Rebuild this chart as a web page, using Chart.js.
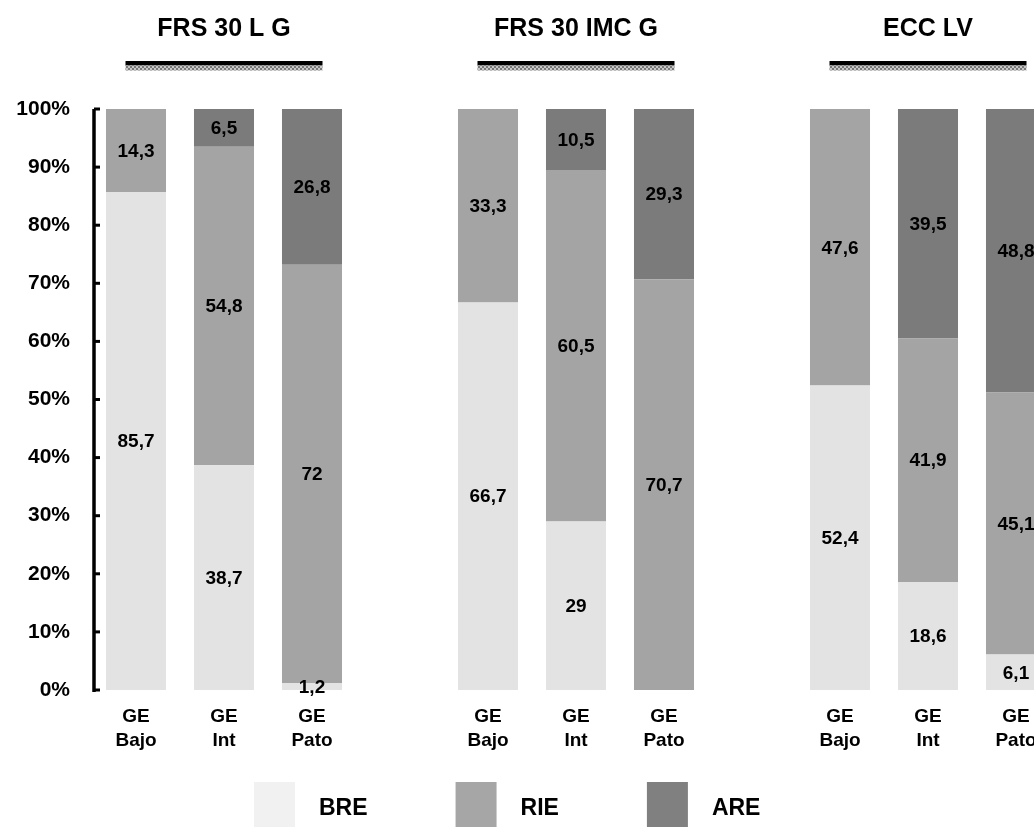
<!DOCTYPE html>
<html>
<head>
<meta charset="utf-8">
<script src="https://cdn.jsdelivr.net/npm/chart.js@4/dist/chart.umd.min.js"></script>
<style>
  html, body { margin: 0; padding: 0; background: #fff; overflow: hidden; width: 1034px; height: 827px; }
  canvas { display: block; }
</style>
</head>
<body>
<canvas id="chart" width="1060" height="827" style="width:1060px;height:827px"></canvas>
<script>
// Categories: three groups of three bars, separated by an empty slot
const categories = [
  ["GE", "Bajo"], ["GE", "Int"], ["GE", "Pato"], "",
  ["GE", "Bajo"], ["GE", "Int"], ["GE", "Pato"], "",
  ["GE", "Bajo"], ["GE", "Int"], ["GE", "Pato"]
];
const groupTitles = ["FRS 30 L G", "FRS 30 IMC G", "ECC LV"];
const groupTitleSlots = [1, 5, 9];

const seriesNames = ["BRE", "RIE", "ARE"];
const breValues = [85.7, 38.7, 1.2, null, 66.7, 29, 0, null, 52.4, 18.6, 6.1];
const rieValues = [14.3, 54.8, 72, null, 33.3, 60.5, 70.7, null, 47.6, 41.9, 45.1];
const areValues = [0, 6.5, 26.8, null, 0, 10.5, 29.3, null, 0, 39.5, 48.8];

const yTicks = [0, 10, 20, 30, 40, 50, 60, 70, 80, 90, 100];

const barColors = ["#e3e3e3", "#a4a4a4", "#7b7b7b"];
const legendColors = ["#f1f1f1", "#a6a6a6", "#808080"];
const FONT = "'Liberation Sans', Arial, Helvetica, sans-serif";

const fmt = v => String(v).replace('.', ',');

// Hatched band under the group headings
function makeHatch(ctx) {
  const p = document.createElement('canvas');
  p.width = 4; p.height = 4;
  const g = p.getContext('2d');
  g.fillStyle = '#c8c8c8'; g.fillRect(0, 0, 4, 4);
  g.fillStyle = '#7a7a7a';
  g.fillRect(0, 0, 2, 2); g.fillRect(2, 2, 2, 2);
  return ctx.createPattern(p, 'repeat');
}

const decorations = {
  id: 'decorations',
  afterDraw(chart) {
    const ctx = chart.ctx;
    const area = chart.chartArea;
    const xs = chart.scales.x, ys = chart.scales.y;
    ctx.save();

    // Y axis line with inward tick marks
    ctx.strokeStyle = '#000';
    ctx.lineWidth = 3.5;
    ctx.beginPath();
    ctx.moveTo(area.left + 2, area.top);
    ctx.lineTo(area.left + 2, area.bottom + 2);
    ctx.stroke();
    ctx.lineWidth = 3;
    yTicks.forEach(v => {
      const y = ys.getPixelForValue(v);
      ctx.beginPath();
      ctx.moveTo(area.left + 2, y);
      ctx.lineTo(area.left + 8, y);
      ctx.stroke();
    });

    // Group headings with their double rule
    const hatch = makeHatch(ctx);
    ctx.fillStyle = '#000';
    ctx.font = 'bold 25px ' + FONT;
    ctx.textAlign = 'center';
    ctx.textBaseline = 'middle';
    groupTitles.forEach((t, k) => {
      const cx = xs.getPixelForValue(groupTitleSlots[k]);
      ctx.fillStyle = '#000';
      ctx.fillText(t, cx, 29);
      ctx.fillRect(cx - 98.5, 61, 197, 4.5);
      ctx.fillStyle = hatch;
      ctx.fillRect(cx - 98.5, 65.5, 197, 5);
    });

    // Legend row
    ctx.font = 'bold 23px ' + FONT;
    ctx.textAlign = 'left';
    let x = 254;
    chart.data.datasets.forEach((ds, i) => {
      ctx.fillStyle = legendColors[i];
      ctx.fillRect(x, 782, 41, 50);
      ctx.fillStyle = '#000';
      ctx.fillText(ds.label, x + 65, 809);
      x = x + 65 + ctx.measureText(ds.label).width + 88;
    });
    ctx.restore();
  },
  afterDatasetsDraw(chart) {
    // Value labels centred in each segment
    const ctx = chart.ctx;
    ctx.save();
    ctx.fillStyle = '#000';
    ctx.font = 'bold 19px ' + FONT;
    ctx.textAlign = 'center';
    ctx.textBaseline = 'middle';
    chart.data.datasets.forEach((ds, i) => {
      const meta = chart.getDatasetMeta(i);
      meta.data.forEach((bar, j) => {
        const v = ds.data[j];
        if (!v) return;
        const p = bar.getProps(['x', 'y', 'base'], true);
        ctx.fillText(fmt(v), p.x, (p.y + p.base) / 2 + 1);
      });
    });
    ctx.restore();
  }
};

new Chart(document.getElementById('chart'), {
  type: 'bar',
  data: {
    labels: categories,
    datasets: [
      { label: seriesNames[0], data: breValues, backgroundColor: barColors[0] },
      { label: seriesNames[1], data: rieValues, backgroundColor: barColors[1] },
      { label: seriesNames[2], data: areValues, backgroundColor: barColors[2] }
    ]
  },
  options: {
    responsive: false,
    animation: false,
    devicePixelRatio: 1,
    layout: { padding: { top: 109, left: 0, right: 0, bottom: 0 } },
    datasets: { bar: { categoryPercentage: 1, barPercentage: 0.682, borderWidth: 0 } },
    plugins: { legend: { display: false }, tooltip: { enabled: false }, title: { display: false } },
    scales: {
      x: {
        stacked: true,
        grid: { display: false, drawTicks: false },
        border: { display: false },
        ticks: {
          color: '#000', autoSkip: false, maxRotation: 0, padding: 14,
          font: { family: FONT, size: 19, weight: 'bold', lineHeight: 1.3 }
        },
        afterFit: s => { s.height = 137; }
      },
      y: {
        stacked: true, min: 0, max: 100,
        grid: { display: false, drawTicks: false },
        border: { display: false },
        afterBuildTicks: s => { s.ticks = yTicks.map(v => ({ value: v })); },
        ticks: {
          color: '#000', padding: 22,
          callback: v => v + '%',
          font: { family: FONT, size: 21, weight: 'bold' }
        },
        afterFit: s => { s.width = 92; }
      }
    }
  },
  plugins: [decorations]
});
</script>
</body>
</html>
